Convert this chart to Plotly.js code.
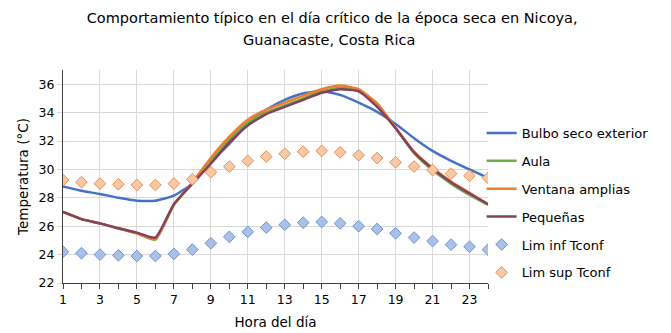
<!DOCTYPE html>
<html>
<head>
<meta charset="utf-8">
<script src="https://cdn.plot.ly/plotly-3.0.1.min.js"></script>
<style>html,body{margin:0;padding:0;background:#fff;}#chart{width:671px;height:333px;}</style>
</head>
<body>
<div id="chart"></div>
<script>
var hours = [1,2,3,4,5,6,7,8,9,10,11,12,13,14,15,16,17,18,19,20,21,22,23,24];
var bulboSeco = [28.8,28.5,28.27,28.0,27.8,27.8,28.15,29.0,30.5,31.8,33.2,34.2,34.9,35.35,35.5,35.25,34.7,34.05,33.2,32.2,31.3,30.6,30.0,29.4];
var aula = [27.0,26.5,26.2,25.85,25.5,25.05,27.5,29.0,30.6,32.1,33.3,34.0,34.5,35.0,35.5,35.75,35.55,34.5,32.9,31.15,29.95,29.0,28.2,27.5];
var ventana = [27.0,26.5,26.2,25.85,25.5,25.1,27.5,29.1,30.8,32.3,33.5,34.2,34.7,35.2,35.65,35.9,35.65,34.65,32.95,31.25,30.1,29.15,28.35,27.55];
var pequenas = [27.0,26.5,26.2,25.85,25.55,25.2,27.55,29.0,30.4,31.9,33.1,33.9,34.4,34.9,35.4,35.65,35.5,34.4,32.9,31.2,30.05,29.1,28.3,27.55];
var limInf = [24.2,24.1,24.0,23.95,23.9,23.9,24.05,24.35,24.8,25.25,25.6,25.9,26.1,26.25,26.3,26.2,26.0,25.8,25.5,25.2,24.95,24.7,24.55,24.35];
var limSup = [29.25,29.1,29.0,28.95,28.9,28.9,29.0,29.3,29.8,30.2,30.6,30.9,31.1,31.25,31.3,31.2,31.0,30.8,30.5,30.2,29.95,29.7,29.55,29.4];
var xTicks = [1,3,5,7,9,11,13,15,17,19,21,23];
var yTicks = [22,24,26,28,30,32,34,36];
var titleLine1 = 'Comportamiento típico en el día crítico de la época seca en Nicoya,';
var titleLine2 = 'Guanacaste, Costa Rica';

var FONT = 'Tahoma, "DejaVu Sans", sans-serif';
function lineTrace(y, name, color, g) {
  return {x: hours, y: y, name: name, type: 'scatter', mode: 'lines',
    line: {color: color, width: 2.5, shape: 'spline', smoothing: 0.5}, legendgroup: g};
}
var traces = [
  lineTrace(bulboSeco, 'Bulbo seco exterior', '#4472C4', 'a'),
  lineTrace(aula, 'Aula', '#70AD47', 'b'),
  lineTrace(ventana, 'Ventana amplias', '#ED7D31', 'c'),
  lineTrace(pequenas, 'Pequeñas', '#85405F', 'd'),
  {x: hours, y: limInf, name: 'Lim inf Tconf', type: 'scatter', mode: 'markers', legendgroup: 'e',
    marker: {symbol: 'diamond', size: 9, color: '#A9C0E8', line: {color: '#6F93D2', width: 1}}},
  {x: hours, y: limSup, name: 'Lim sup Tconf', type: 'scatter', mode: 'markers', legendgroup: 'f',
    marker: {symbol: 'diamond', size: 9, color: '#F8C9A6', line: {color: '#EE8C4E', width: 1}}}
];
var layout = {
  width: 671, height: 333,
  margin: {l: 63, r: 183, t: 70, b: 50},
  paper_bgcolor: '#fff', plot_bgcolor: '#fff',
  font: {family: FONT, color: '#000', size: 12},
  title: {text: titleLine1,
    font: {family: FONT, size: 14.5, color: '#000'}, x: 0.495, xanchor: 'center', y: 0.946, yanchor: 'middle'},
  annotations: [{text: titleLine2, xref: 'paper', yref: 'paper', x: 0.626, xanchor: 'center',
    y: 1 + 30 / 213, yanchor: 'middle', showarrow: false, font: {family: FONT, size: 14.5, color: '#000'}}],
  xaxis: {range: [1, 24], tickvals: xTicks, ticktext: xTicks.map(String), showgrid: true, gridcolor: '#d9d9d9',
    showline: true, linecolor: '#404040', linewidth: 1, ticks: 'outside', ticklen: 5, tickcolor: '#404040',
    minor: {dtick: 1, tick0: 1, ticks: 'outside', ticklen: 5, tickcolor: '#404040', showgrid: false},
    zeroline: false, tickfont: {size: 12.5},
    title: {text: 'Hora del día', font: {size: 13.5}, standoff: 11}},
  yaxis: {range: [22, 37], tickvals: yTicks, showgrid: true, gridcolor: '#d9d9d9',
    showline: true, linecolor: '#404040', linewidth: 1, ticks: 'outside', ticklen: 5, tickcolor: '#d9d9d9',
    zeroline: false, tickfont: {size: 12.5},
    title: {text: 'Temperatura (°C)', font: {size: 13.5}, standoff: 6}},
  showlegend: true,
  legend: {x: 0.985, xanchor: 'left', y: 0.775, yanchor: 'top', font: {size: 13}, tracegroupgap: 8,
    itemwidth: 30, bgcolor: 'rgba(0,0,0,0)'}
};
Plotly.newPlot('chart', traces, layout, {displayModeBar: false, staticPlot: true});
</script>
</body>
</html>
